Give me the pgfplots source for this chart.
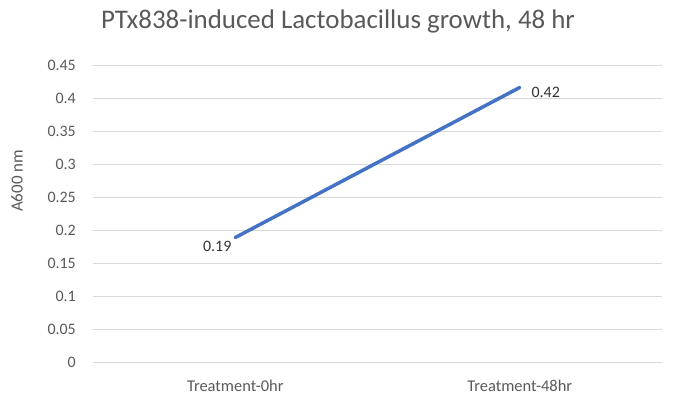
\documentclass[border=0pt]{standalone}
\usepackage{pgfplots}
\pgfplotsset{compat=1.18}
\usepackage{fontspec}
\setmainfont{Carlito}
\definecolor{txt}{HTML}{595959}
\definecolor{gridc}{HTML}{D9D9D9}
\definecolor{linec}{HTML}{4472C4}
\begin{document}
\begin{tikzpicture}
\path[use as bounding box] (0,0) rectangle (673bp,403bp);
\begin{axis}[
  at={(93bp,40.5bp)}, anchor=south west,
  scale only axis, width=569bp, height=297.5bp,
  xmin=-0.5, xmax=1.5, ymin=0, ymax=0.45,
  axis line style={draw=none},
  major tick length=0pt,
  ymajorgrids,
  grid style={gridc, line width=0.8bp},
  xtick={0,1},
  xticklabels={Treatment-0hr, Treatment-48hr},
  ytick={0,0.05,0.1,0.15,0.2,0.25,0.3,0.35,0.4,0.45},
  yticklabels={0,0.05,0.1,0.15,0.2,0.25,0.3,0.35,0.4,0.45},
  ticklabel style={font=\fontsize{16}{19}\selectfont, text=txt, inner sep=0pt},
  yticklabel style={xshift=-17bp},
  xticklabel style={yshift=-17bp, font=\fontsize{16.5}{19}\selectfont},
  ylabel={A600 nm},
  ylabel style={at={(axis description cs:-0.1336,0.61)}, anchor=center, font=\fontsize{17}{20}\selectfont, text=txt},
  title={PTx838-induced Lactobacillus growth, 48 hr},
  title style={at={(axis description cs:0.5,1)}, anchor=base, xshift=-39.5bp, yshift=31bp, font=\fontsize{27}{32}\selectfont, text=txt},
  clip=false,
]
\addplot[linec, line width=3.5bp, line cap=round, mark=none] coordinates {(0,0.189) (1,0.416)};
\addplot[draw=none, mark=none, nodes near coords, point meta=explicit symbolic,
  nodes near coords style={anchor=center, xshift=-18bp, yshift=-9.3bp, font=\fontsize{16}{19}\selectfont, text=black!80, inner sep=0pt}]
  coordinates {(0,0.189) [0.19]};
\addplot[draw=none, mark=none, nodes near coords, point meta=explicit symbolic,
  nodes near coords style={anchor=center, xshift=26bp, yshift=-4.7bp, font=\fontsize{16}{19}\selectfont, text=black!80, inner sep=0pt}]
  coordinates {(1,0.416) [0.42]};
\end{axis}
\end{tikzpicture}
\end{document}
